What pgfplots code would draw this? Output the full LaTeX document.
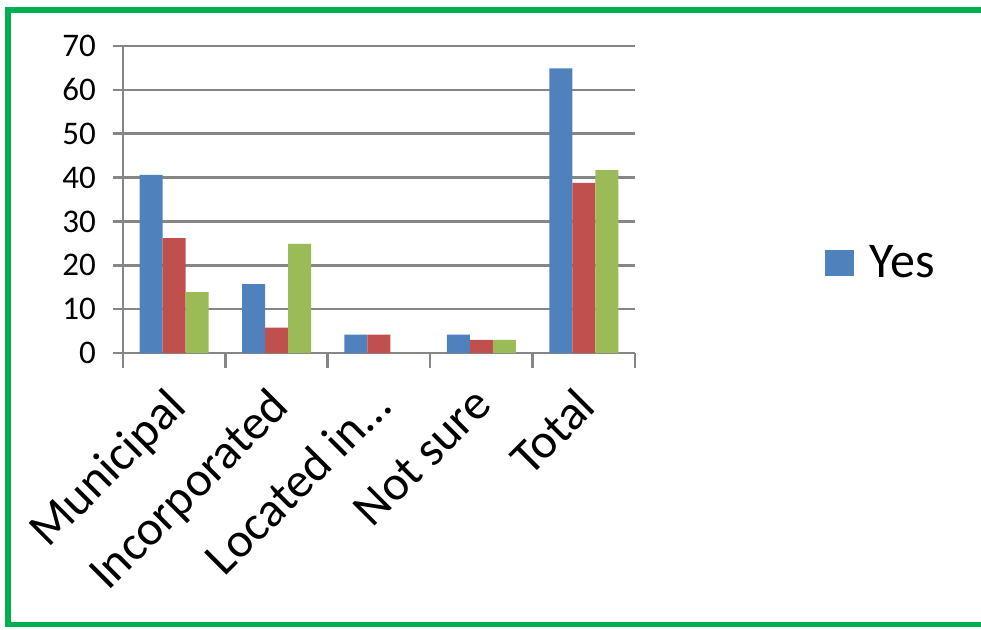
\documentclass[border=0pt]{standalone}
\usepackage{pgfplots}
\pgfplotsset{compat=1.18}
\usepackage{fontspec}
\setmainfont{Carlito}
\definecolor{cblue}{HTML}{4F81BD}
\definecolor{cred}{HTML}{C0504D}
\definecolor{cgreen}{HTML}{9BBB59}
\definecolor{frame}{HTML}{00B050}
\definecolor{cgray}{HTML}{868686}
\begin{document}
\begin{tikzpicture}
\useasboundingbox (0,0) rectangle (490.5pt,-314.5pt);
\draw[color=frame, line width=2.6pt] (4pt,-5pt) rectangle (500pt,-312.3pt);
\begin{axis}[
  at={(61.5pt,-176.5pt)}, anchor=south west,
  width=256pt, height=153.5pt, scale only axis,
  ymin=0, ymax=70, xmin=-0.5, xmax=4.5,
  ytick={0,10,...,70},
  xtick={0,1,2,3,4},
  xticklabels={Municipal,Incorporated,Located in\dots,Not sure,Total},
  x tick label style={yshift=-8pt, xshift=-5pt, rotate=45, anchor=north east, font=\fontsize{24.5}{28}\selectfont, inner sep=2pt},
  y tick label style={font=\fontsize{16.5}{20}\selectfont, xshift=-5pt},
  /pgf/number format/assume math mode=true,
  axis lines=left, axis line style={-, draw=cgray, line width=1.3pt},
  tick align=outside,
  x tick style={draw=none},
  y tick style={draw=cgray, line width=1.3pt},
  major tick length=5pt,
  extra x ticks={-0.5,0.5,1.5,2.5,3.5,4.5},
  extra x tick labels={},
  extra x tick style={major tick length=7.5pt, x tick style={draw=cgray, line width=1.3pt}, grid=none},
  ymajorgrids, grid style={draw=cgray, line width=1.3pt},
  ybar=0pt, bar width=11.5pt,
  legend style={draw=none, at={(rel axis cs:1.37,0.293)}, anchor=west, font=\fontsize{25}{29}\selectfont, inner sep=0pt, row sep=0pt, column sep=6pt},
  legend cell align=left,
  legend image code/.code={\fill[cblue] (0pt,-6.5pt) rectangle (14.5pt,6.5pt);},
]
\addplot[fill=cblue, draw=none] coordinates {(0,40.6) (1,15.7) (2,4.2) (3,4.2) (4,64.9)};
\addlegendentry{Yes}
\addplot[fill=cred, draw=none] coordinates {(0,26.2) (1,5.8) (2,4.2) (3,3.0) (4,38.8)};
\addplot[fill=cgreen, draw=none] coordinates {(0,13.9) (1,24.9) (2,0) (3,3.0) (4,41.7)};
\end{axis}
\end{tikzpicture}
\end{document}
